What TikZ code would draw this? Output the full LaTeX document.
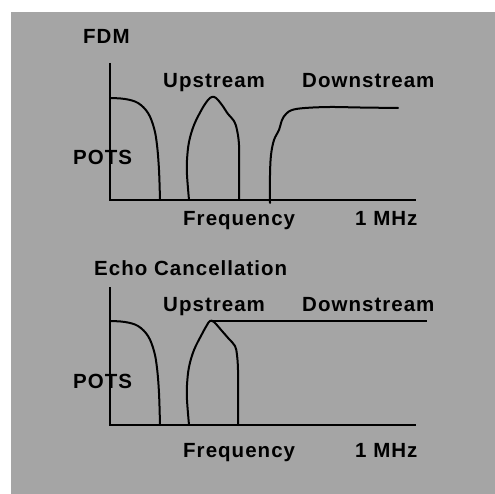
\documentclass[tikz,border=0pt]{standalone}
\usepackage{fontspec}
\setmainfont{Liberation Sans}[LetterSpace=5]
\definecolor{panelgray}{RGB}{165,165,165}
\begin{document}
\begin{tikzpicture}[x=1pt,y=-1pt,
  lbl/.style={anchor=base west,inner sep=0pt,font=\fontsize{20.5}{24}\selectfont\bfseries},
  axis/.style={line width=1.3pt},
  spectrum/.style={line width=2pt,line join=round,line cap=round}]
\useasboundingbox (0,0) rectangle (495,494);
\fill[panelgray] (11,12) rectangle (495,494);

% ---- FDM panel ----
\node[lbl] (fdm) at (83,44) {FDM};
\coordinate (o1) at (110,200);
\coordinate (ytop1) at (110,63);
\coordinate (xend1) at (416,200);
\draw[axis] (ytop1) -- (o1) -- (xend1);
\node[lbl] (up1) at (163,88) {Upstream};
\node[lbl] (down1) at (302,88) {Downstream};
\node[lbl] (pots1) at (73,165) {POTS};
\node[lbl] (freq1) at (183,226) {Frequency};
\node[lbl] (mhz1) at (355,226) {1 MHz};
% POTS band
\draw[spectrum] plot[smooth,tension=0.6] coordinates {(110,98) (125,99) (138,103) (148,113) (154,128) (157,145) (159,170) (160,200)};
% upstream band
\draw[spectrum] plot[smooth,tension=0.6] coordinates {(189,200) (187,175) (187,160) (189,142) (194,125) (202,109) (208,100) (212,97) (216,98) (222,105) (228,114) (234,121) (237,130) (239,145) (239,170) (239,200)};
% downstream band
\draw[spectrum] plot[smooth,tension=0.6] coordinates {(270,203) (270,175) (271,155) (274,140) (279,130) (282,120) (286,114) (292,110) (305,108) (330,107) (360,107.5) (398,108)};

% ---- Echo cancellation panel ----
\node[lbl] (echo) at (94,276) {Echo Cancellation};
\coordinate (o2) at (110,425);
\coordinate (ytop2) at (110,287);
\coordinate (xend2) at (416,425);
\draw[axis] (ytop2) -- (o2) -- (xend2);
\node[lbl] (up2) at (163,311) {Upstream};
\node[lbl] (down2) at (302,311) {Downstream};
\node[lbl] (pots2) at (73,388) {POTS};
\node[lbl] (freq2) at (183,457) {Frequency};
\node[lbl] (mhz2) at (355,457) {1 MHz};
% POTS band
\draw[spectrum] plot[smooth,tension=0.6] coordinates {(110,321) (125,322) (138,326) (148,336) (154,351) (157,368) (159,393) (160,425)};
% upstream band
\draw[spectrum] plot[smooth,tension=0.6] coordinates {(189,425) (187,400) (187,385) (189,367) (194,350) (202,334) (207,325) (210,321) (214,322) (222,331) (229,339) (235,346) (237,355) (238,370) (238,395) (238,425)};
% downstream band shares the spectrum from the upstream peak
\coordinate (peak2) at (210,321);
\coordinate (dend2) at (427,321);
\draw[line width=1.5pt] (peak2) -- (dend2);
\end{tikzpicture}
\end{document}
